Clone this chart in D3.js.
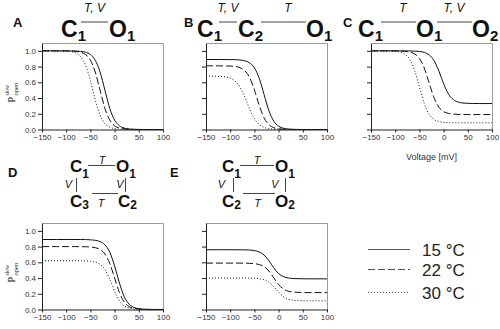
<!DOCTYPE html>
<html><head><meta charset="utf-8">
<script src="https://cdn.jsdelivr.net/npm/d3@7"></script>
<style>body{margin:0;background:#fff}svg{display:block}</style>
</head><body><svg id="c" width="500" height="329"></svg>
<script>
// ---------- data ----------
const voltages = [-150,-120,-100,-90,-80,-70,-60,-50,-40,-30,-20,-10,0,10,20,30,40,50,60,75,100];
const temps = ["15 °C","22 °C","30 °C"];
const xTicks = [-150,-100,-50,0,50,100];
const yTicks = [0,0.2,0.4,0.6,0.8,1.0];
const panelLabels = ["A","B","C","D","E"];

const A15 = [1.000,1.000,1.000,0.999,0.998,0.993,0.982,0.953,0.881,0.731,0.500,0.269,0.119,0.047,0.018,0.007,0.002,0.001,0,0,0];
const A22 = [1.000,1.000,1.000,0.998,0.993,0.982,0.953,0.881,0.731,0.500,0.269,0.119,0.047,0.018,0.007,0.002,0.001,0,0,0,0];
const A30 = [1.000,0.999,0.996,0.989,0.971,0.924,0.818,0.622,0.378,0.182,0.076,0.029,0.011,0.004,0.002,0.001,0,0,0,0,0];

const B15 = [0.890,0.890,0.889,0.888,0.884,0.874,0.848,0.784,0.651,0.445,0.239,0.106,0.042,0.016,0.006,0.002,0.001,0,0,0,0];
const B22 = [0.810,0.809,0.807,0.801,0.787,0.748,0.663,0.504,0.306,0.147,0.062,0.023,0.009,0.003,0.001,0,0,0,0,0,0];
const B30 = [0.680,0.675,0.653,0.616,0.541,0.415,0.264,0.139,0.064,0.027,0.011,0.005,0.002,0.001,0,0,0,0,0,0,0];

const C15 = [1.000,1.000,1.000,1.000,0.999,0.999,0.997,0.993,0.981,0.949,0.878,0.747,0.583,0.452,0.381,0.349,0.337,0.333,0.331,0.330,0.330];
const C22 = [1.000,1.000,1.000,0.998,0.995,0.985,0.962,0.904,0.782,0.595,0.408,0.286,0.228,0.205,0.196,0.192,0.191,0.190,0.190,0.190,0.190];
const C30 = [1.000,0.999,0.994,0.984,0.957,0.891,0.754,0.543,0.331,0.194,0.128,0.101,0.091,0.087,0.086,0.085,0.085,0.085,0.085,0.085,0.085];

const D15 = [0.890,0.890,0.890,0.890,0.890,0.890,0.889,0.886,0.880,0.864,0.822,0.728,0.554,0.336,0.162,0.068,0.026,0.010,0.004,0.001,0];
const D22 = [0.800,0.800,0.800,0.800,0.800,0.799,0.798,0.795,0.786,0.762,0.705,0.585,0.400,0.215,0.095,0.038,0.014,0.005,0.002,0,0];
const D30 = [0.620,0.620,0.620,0.620,0.620,0.619,0.618,0.613,0.602,0.573,0.507,0.386,0.234,0.113,0.047,0.018,0.007,0.002,0.001,0,0];

const E15 = [0.760,0.760,0.760,0.760,0.759,0.759,0.756,0.749,0.732,0.693,0.620,0.530,0.457,0.418,0.401,0.394,0.392,0.391,0.390,0.390,0.390];
const E22 = [0.590,0.590,0.590,0.590,0.590,0.590,0.587,0.583,0.572,0.545,0.489,0.403,0.316,0.260,0.233,0.222,0.218,0.216,0.215,0.215,0.215];
const E30 = [0.400,0.400,0.400,0.400,0.400,0.400,0.399,0.397,0.392,0.378,0.347,0.290,0.220,0.163,0.132,0.118,0.113,0.111,0.110,0.110,0.110];

const seriesByPanel = [[A15,A22,A30],[B15,B22,B30],[C15,C22,C30],[D15,D22,D30],[E15,E22,E30]];

// ---------- layout ----------
const svg = d3.select("#c");
const FONT = "'Liberation Sans', Arial, sans-serif";
const dashes = [null, "7,3", "1,2"];
const W = 121, H = 86.5;
const layout = [
  {x:42, b:129.5, ylab:true, lx:13, ly:27},
  {x:206, b:129.5, ylab:false, lx:184, ly:27},
  {x:371, b:129.5, ylab:false, lx:343, ly:27, xTitle:true},
  {x:42, b:309.5, ylab:true, lx:8, ly:177},
  {x:206, b:309.5, ylab:false, lx:170, ly:177}
];

layout.forEach((p, i) => {
  const x = d3.scaleLinear().domain([-150, 100]).range([p.x, p.x + W]);
  const y = d3.scaleLinear().domain([0, 1.1]).range([p.b, p.b - H]);
  const g = svg.append("g");
  // frame top/right
  g.append("path")
    .attr("d", `M${p.x+0.5},${p.b-H+0.5}H${p.x+W+0.5}V${p.b+0.5}`)
    .attr("fill","none").attr("stroke","#9a9a9a").attr("stroke-width",1);
  // curves
  const line = d3.line().x((d, k) => x(voltages[k])).y(d => y(d)).curve(d3.curveMonotoneX);
  seriesByPanel[i].forEach((s, j) => {
    g.append("path").attr("d", line(s)).attr("fill","none")
      .attr("stroke","#111").attr("stroke-width",1)
      .attr("stroke-dasharray", dashes[j]);
  });
  // axes
  const ax = g.append("g").attr("transform", `translate(0,${p.b})`)
    .call(d3.axisBottom(x).tickValues(xTicks).tickSize(3).tickSizeOuter(0).tickPadding(2));
  const ay = g.append("g").attr("transform", `translate(${p.x},0)`)
    .call(d3.axisLeft(y).tickValues(yTicks).tickSize(4).tickSizeOuter(0).tickPadding(2)
      .tickFormat(p.ylab ? d3.format(".1f") : () => ""));
  [ax, ay].forEach(a => {
    a.selectAll("text").attr("font-family", FONT).attr("font-size", 8).attr("fill", "#333");
    a.selectAll("line,path").attr("stroke", "#222");
  });
  // y-axis label P_open^slow
  if (p.ylab) {
    const yl = g.append("g").attr("transform", `translate(15,${p.b - 27}) rotate(-90)`)
      .attr("font-family","'Liberation Serif', serif").attr("fill","#222");
    yl.append("text").attr("x",0).attr("y",0).attr("font-size",10).text("P");
    yl.append("text").attr("x",7).attr("y",2.5).attr("font-size",6.5).text("open");
    yl.append("text").attr("x",7).attr("y",-6).attr("font-size",5.5).text("slow");
  }
  if (p.xTitle) {
    g.append("text").attr("x", p.x + W/2).attr("y", 160).attr("text-anchor","middle")
      .attr("font-family", FONT).attr("font-size", 9).attr("fill","#333").text("Voltage [mV]");
  }
  // panel letter
  svg.append("text").attr("x", p.lx).attr("y", p.ly).attr("font-family", FONT)
    .attr("font-weight","bold").attr("font-size", 13).attr("fill","#111").text(panelLabels[i]);
});

// ---------- state diagrams ----------
function state(letter, sub, x, base, size, subSize, subDrop) {
  const t = svg.append("text").attr("x", x).attr("y", base).attr("font-family", FONT)
    .attr("font-weight","bold").attr("font-size", size).attr("fill","#111");
  t.append("tspan").text(letter);
  t.append("tspan").attr("font-size", subSize).attr("dy", subDrop).text(sub);
}
function rate(txt, x, base, size, anchor) {
  svg.append("text").attr("x", x).attr("y", base).attr("text-anchor", anchor || "middle")
    .attr("font-family", FONT).attr("font-style","italic").attr("font-size", size)
    .attr("fill","#111").text(txt);
}
function seg(x1, y1, x2, y2) {
  svg.append("line").attr("x1",x1).attr("y1",y1).attr("x2",x2).attr("y2",y2)
    .attr("stroke","#444").attr("stroke-width",1);
}
// A
state("C","1",61,37,23,15,4); seg(81,22,108,22); rate("T, V",94.5,12,12); state("O","1",109,37,23,15,4);
// B
state("C","1",197,37,23,15,4); seg(219,22,237,22); rate("T, V",228,12,12);
state("C","2",238,37,23,15,4); seg(261,22,306,22); rate("T",288,12,12);
state("O","1",306,37,23,15,4);
// C
state("C","1",358,37,23,15,4); seg(381,22,416,22); rate("T",403,12,12);
state("O","1",416,37,23,15,4); seg(437,22,472,22); rate("T, V",454,12,12);
state("O","2",472,37,23,15,4);
// D
state("C","1",70,172,17,12,6); seg(88,165.5,115,165.5); rate("T",102,164,11);
state("O","1",116,172,17,12,6);
seg(76.5,178,76.5,192); rate("V",68.5,188,11); seg(125.5,178,125.5,192); rate("V",120,188,11);
state("C","3",70,207,17,12,2); seg(92,193.5,118,193.5); rate("T",101,207,11);
state("C","2",118,207,17,12,2);
// E
state("C","1",222,172,17,12,6); seg(240,165.5,274,165.5); rate("T",257,164,11);
state("O","1",275,172,17,12,6);
seg(233.5,178,233.5,192); rate("V",221.5,188,11); seg(285.5,178,285.5,192); rate("V",275,188,11);
state("C","2",222,207,17,12,2); seg(243,193.5,275,193.5); rate("T",257.5,207,11);
state("O","2",275,207,17,12,2);

// ---------- legend ----------
const legY = [249.5, 269.5, 292.5];
temps.forEach((t, j) => {
  svg.append("line").attr("x1",368).attr("x2",410).attr("y1",legY[j]).attr("y2",legY[j])
    .attr("stroke","#555").attr("stroke-width",1).attr("stroke-dasharray", dashes[j]);
  svg.append("text").attr("x",422).attr("y",legY[j]+6).attr("font-family",FONT)
    .attr("font-size",17).attr("fill","#222").text(t);
});
</script></body></html>
